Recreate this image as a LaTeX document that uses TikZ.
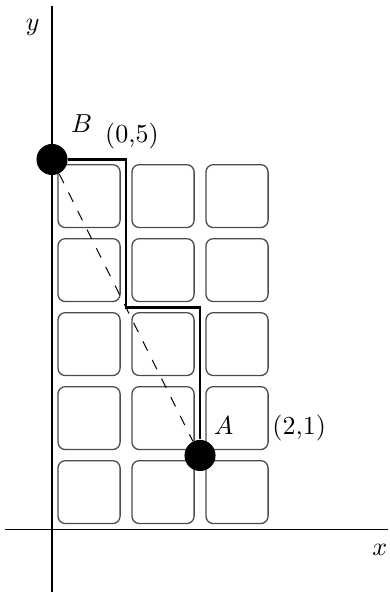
\documentclass[tikz,border=0pt]{standalone}
\begin{document}
\begin{tikzpicture}[
    dot/.style={circle, fill, inner sep=0pt, minimum size=0.42cm},
    tile/.style={draw=black!70, line width=0.5pt, rounded corners=0.1cm},
    lbl/.style={font=\normalsize}]
  \useasboundingbox (-0.703,-0.872) rectangle (4.554,7.155);

  \foreach \i in {0,1,2} \foreach \j in {0,...,4}
      \draw[tile] (\i+0.08,\j+0.08) rectangle (\i+0.92,\j+0.93);

  \coordinate (xl) at (-0.64,0);
  \coordinate (xr) at (4.54,0);
  \coordinate (yb) at (0,-0.84);
  \coordinate (yt) at (0,7.08);
  \draw[line width=0.7pt] (xl) -- (xr);
  \draw[line width=0.7pt] (yb) -- (yt);

  \node (B) at (0,5) [dot] {};
  \node (A) at (2,1) [dot] {};
  \coordinate (c1) at (1,5);
  \coordinate (c2) at (1,3);
  \coordinate (c3) at (2,3);
  \draw[line width=0.9pt, line join=miter] (B) -- (c1) -- (c2) -- (c3) -- (A);

  \draw[dash pattern=on 4pt off 4pt, line width=0.4pt] (B) -- (A);

  \node (ylbl) at (-0.26,6.78) [lbl] {\(y\)};
  \node (xlbl) at (4.43,-0.28) [lbl] {\(x\)};
  \node (Blbl) at (0.4,5.48) [lbl] {\(B\)};
  \node (Bco) at (1.08,5.32) [lbl] {(0,5)};
  \node (Albl) at (2.32,1.41) [lbl] {\(A\)};
  \node (Aco) at (3.34,1.37) [lbl] {(2,1)};
\end{tikzpicture}
\end{document}
